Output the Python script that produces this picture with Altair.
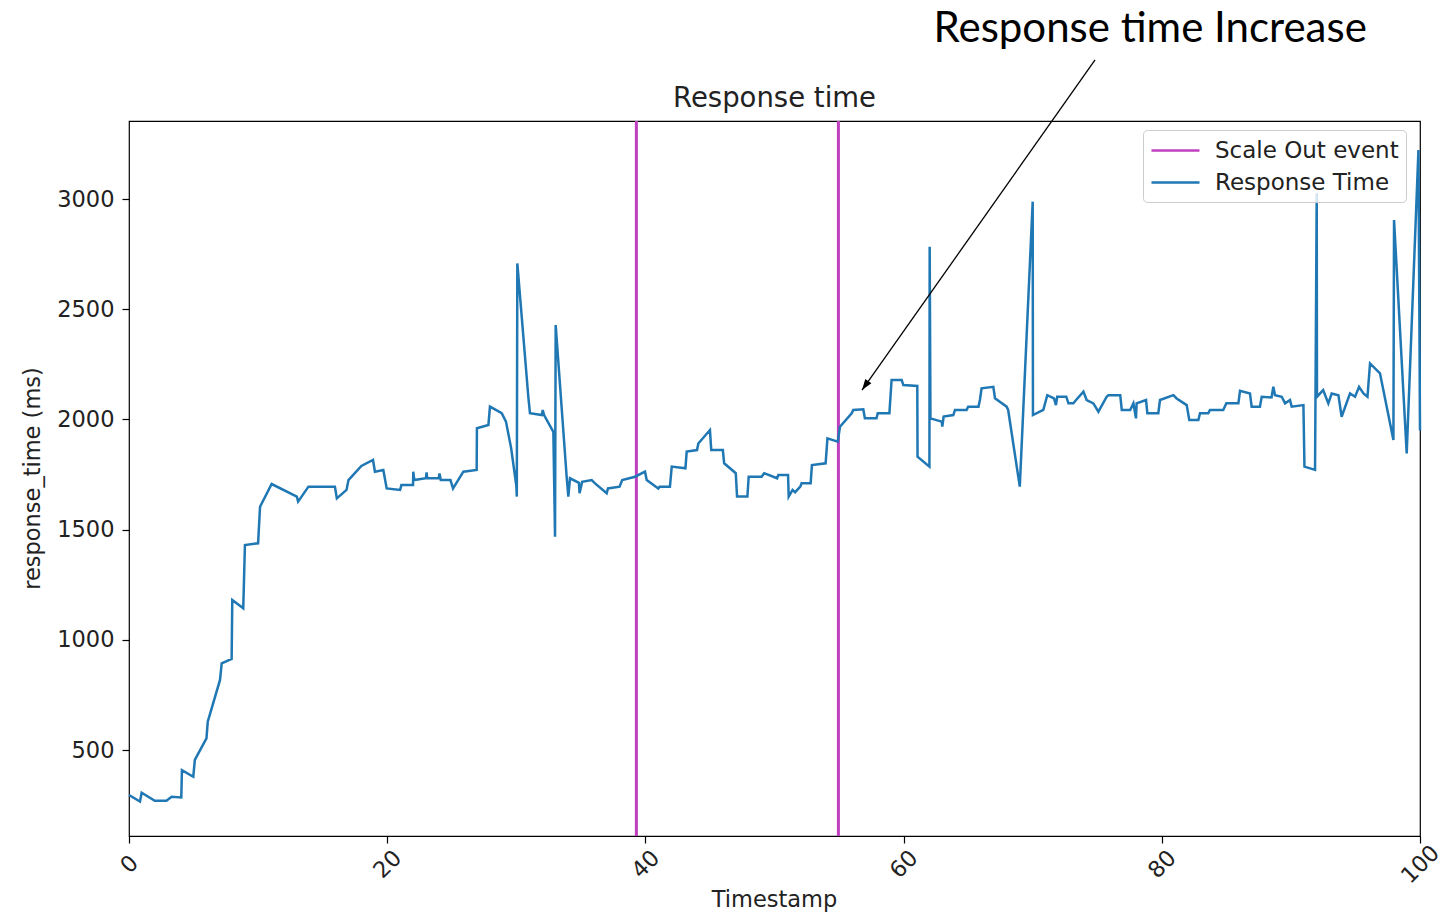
import altair as alt
import pandas as pd

# ---- data ----
timestamps = [
    0.0, 0.85, 0.98, 2.0, 2.9, 3.3, 4.05, 4.1, 4.98, 5.1, 6.0, 6.1, 7.05, 7.18, 7.95, 8.0,
    8.85, 8.98, 10.0, 10.15, 11.05, 13.0, 13.1, 13.9, 15.95, 16.1, 16.85, 17.0,
    18.0, 18.9, 19.05, 19.7, 19.96, 21.0, 21.1, 22.0, 22.02, 22.1, 23.0, 23.05, 23.1,
    24.0, 24.05, 24.15, 24.9, 25.1, 25.9, 26.93, 26.95, 27.84, 27.96, 28.87, 29.2, 29.6,
    30.0, 30.04, 30.08, 30.93, 31.06, 31.97, 32.05, 32.15, 32.87, 33.0, 33.05, 33.9, 34.03,
    34.16, 34.85, 34.9, 35.1, 35.84, 36.1, 37.0, 37.1, 38.0, 38.2, 39.2, 39.97, 40.1,
    41.0, 41.1, 41.9, 42.04, 43.1, 43.2, 44.0, 44.1, 45.0, 45.1, 46.0, 46.1, 47.0, 47.1,
    47.9, 48.0, 49.0, 49.2, 50.2, 50.3, 51.05, 51.1, 51.4, 51.6, 52.0, 52.1, 52.8, 52.9,
    53.96, 54.1, 54.9,
    55.07, 55.98, 56.1, 56.88, 57.0, 57.9, 58.0, 58.9, 59.07, 59.85, 59.98, 61.06, 61.08,
    62.0, 62.02, 62.08, 62.95, 63.0, 63.1, 63.85, 63.98, 64.88, 65.0, 65.8, 65.91, 66.04,
    66.95, 67.08, 67.98, 68.1, 69.0, 70.0, 70.02, 70.82,
    71.13, 71.65, 71.8, 71.9, 72.6, 72.77, 73.15, 73.36, 73.93, 74.18, 74.7, 75.09, 75.73,
    75.86, 76.78, 76.9, 77.55, 77.8, 78.0, 78.05, 78.78, 78.88, 79.73, 79.86, 80.9, 81.15,
    81.93, 82.13, 82.83, 82.96, 83.6, 83.73, 84.76, 85.0, 85.93, 86.06, 86.83, 86.96, 87.6,
    87.74, 88.5, 88.64, 88.77, 89.29, 89.55, 89.93, 90.06, 90.97, 91.05, 91.87, 92.0, 92.02,
    92.5, 92.9, 93.16, 93.68, 93.93, 94.58, 94.97, 95.28, 95.62, 95.93, 96.13, 96.9, 97.94,
    97.99, 98.97, 99.88, 100.0,
]
response_ms = [
    296, 266, 306, 270, 270, 288, 285, 409, 379, 455, 553, 629, 818, 893, 913, 1181,
    1143, 1430, 1438, 1604, 1707, 1650, 1627, 1695, 1695, 1642, 1680, 1725,
    1789, 1816, 1763, 1771, 1687, 1680, 1702, 1702, 1763, 1725, 1733, 1760, 1733,
    1733, 1755, 1725, 1725, 1687, 1763, 1771, 1960, 1975, 2058, 2028, 1990, 1870,
    1700, 1650, 2708, 2103, 2028, 2020, 2043, 2020, 1944, 1468, 2428, 1740, 1650,
    1733, 1712, 1665, 1717, 1725, 1710, 1665, 1687, 1695, 1725, 1740, 1763, 1725,
    1687, 1695, 1695, 1786, 1778, 1854, 1861, 1891, 1952, 1861, 1861, 1801, 1756, 1650,
    1650, 1740, 1740, 1756, 1733, 1748, 1748, 1650, 1680, 1670, 1695, 1710, 1710, 1793,
    1801, 1914, 1899,
    1967, 2028, 2043, 2046, 2005, 2005, 2028, 2028, 2179, 2179, 2156, 2152, 1831,
    1786, 2784, 2005, 1990, 1967, 2013, 2020, 2043, 2043, 2058, 2058, 2088, 2141,
    2148, 2096, 2058, 2043, 1695, 2988, 2020, 2043,
    2110, 2095, 2065, 2103, 2103, 2073, 2073, 2088, 2126, 2088, 2073, 2035, 2103,
    2110, 2110, 2043, 2043, 2073, 2005, 2073, 2088, 2028, 2028, 2088, 2110, 2095,
    2065, 1997, 1997, 2028, 2028, 2043, 2043, 2073, 2073, 2130, 2118, 2058, 2058,
    2103, 2100, 2148, 2110, 2103, 2073, 2088, 2058, 2065, 1786, 1771, 3026, 2103,
    2133, 2073, 2118, 2110, 2012, 2118, 2103, 2148, 2118, 2103, 2254, 2209, 1907,
    2905, 1846, 3222, 1950,
]
scale_out_at = [39.3, 54.95]
series_names = ["Scale Out event", "Response Time"]
series_colors = ["#bf3fbf", "#1f77b4"]
x_ticks = [0, 20, 40, 60, 80, 100]
y_ticks = [500, 1000, 1500, 2000, 2500, 3000]
x_domain = [0, 100]
y_domain = [110, 3354]

annotation_text = ["Response time Increase"]
annotation_x = [79.1]
annotation_y = [3712]
arrow_from = [74.83, 3631]
arrow_to = [56.78, 2133]

# ---- tables ----
line_df = pd.DataFrame({"t": timestamps, "rt": response_ms, "series": series_names[1]})
rule_df = pd.DataFrame({"t": scale_out_at, "series": series_names[0]})
arrow_df = pd.DataFrame({"t": [arrow_from[0]], "rt": [arrow_from[1]],
                         "t2": [arrow_to[0]], "rt2": [arrow_to[1]]})
head_df = pd.DataFrame({"t": [arrow_to[0]], "rt": [arrow_to[1]]})
text_df = pd.DataFrame({"t": annotation_x, "rt": annotation_y, "label": annotation_text})

xscale = alt.Scale(domain=x_domain, nice=False, zero=False)
yscale = alt.Scale(domain=y_domain, nice=False, zero=False)
color = alt.Color(
    "series:N",
    scale=alt.Scale(domain=series_names, range=series_colors),
    legend=alt.Legend(
        title=None, orient="none", legendX=1014, legendY=9,
        symbolType="M-1,0H3", symbolSize=576, symbolStrokeWidth=2.6,
        labelFont="DejaVu Sans", labelFontSize=23, labelColor="#222", labelLimit=400,
        labelOffset=38, rowPadding=6, padding=7,
        strokeColor="#cccccc", fillColor="rgba(255,255,255,0.8)", cornerRadius=4,
    ),
)

x_enc = alt.X(
    "t:Q", scale=xscale,
    axis=alt.Axis(values=x_ticks, title="Timestamp", labelAngle=315,
                  labelAlign="center", labelBaseline="middle", labelPadding=21,
                  titleX=645, titleY=63, titleBaseline="middle"),
)
y_enc = alt.Y(
    "rt:Q", scale=yscale,
    axis=alt.Axis(values=y_ticks, title="response_time (ms)", format="d",
                  labelPadding=8, titleX=-97, titleY=357, titleAngle=270,
                  titleAlign="center", titleBaseline="middle"),
)

line = alt.Chart(line_df).mark_line(strokeWidth=2.5).encode(x=x_enc, y=y_enc, color=color)
rules = alt.Chart(rule_df).mark_rule(strokeWidth=3).encode(x=alt.X("t:Q", scale=xscale), color=color)
arrow = alt.Chart(arrow_df).mark_rule(color="black", strokeWidth=1.3).encode(
    x=alt.X("t:Q", scale=xscale), y=alt.Y("rt:Q", scale=yscale), x2="t2:Q", y2="rt2:Q")
head = alt.Chart(head_df).mark_point(
    shape="M0,0L0.34,1L-0.34,1Z", filled=True, color="black", opacity=1, size=484, angle=215
).encode(x=alt.X("t:Q", scale=xscale), y=alt.Y("rt:Q", scale=yscale))
text = alt.Chart(text_df).mark_text(
    font="Lato", fontSize=42, color="black", align="center", baseline="alphabetic"
).encode(x=alt.X("t:Q", scale=xscale), y=alt.Y("rt:Q", scale=yscale), text="label:N")

chart = alt.layer(rules, line, arrow, head, text).properties(
    width=1291, height=715,
    title=alt.TitleParams("Response time", font="DejaVu Sans", fontSize=27.5,
                          fontWeight="normal", color="#222", offset=9, anchor="middle",
                          frame="group", dy=113),
    padding={"left": 121, "top": 113, "right": 27, "bottom": 77},
    autosize=alt.AutoSizeParams(type="none"),
).configure_view(stroke="black", strokeWidth=1.2).configure_axis(
    domain=False, grid=False, tickColor="black", tickWidth=1.2, tickSize=7,
    labelFont="DejaVu Sans", labelFontSize=22.5, labelColor="#222",
    titleFont="DejaVu Sans", titleFontSize=22.5, titleFontWeight="normal", titleColor="#222",
)

chart.save("out.html", embed_options={"renderer": "svg", "actions": False})
